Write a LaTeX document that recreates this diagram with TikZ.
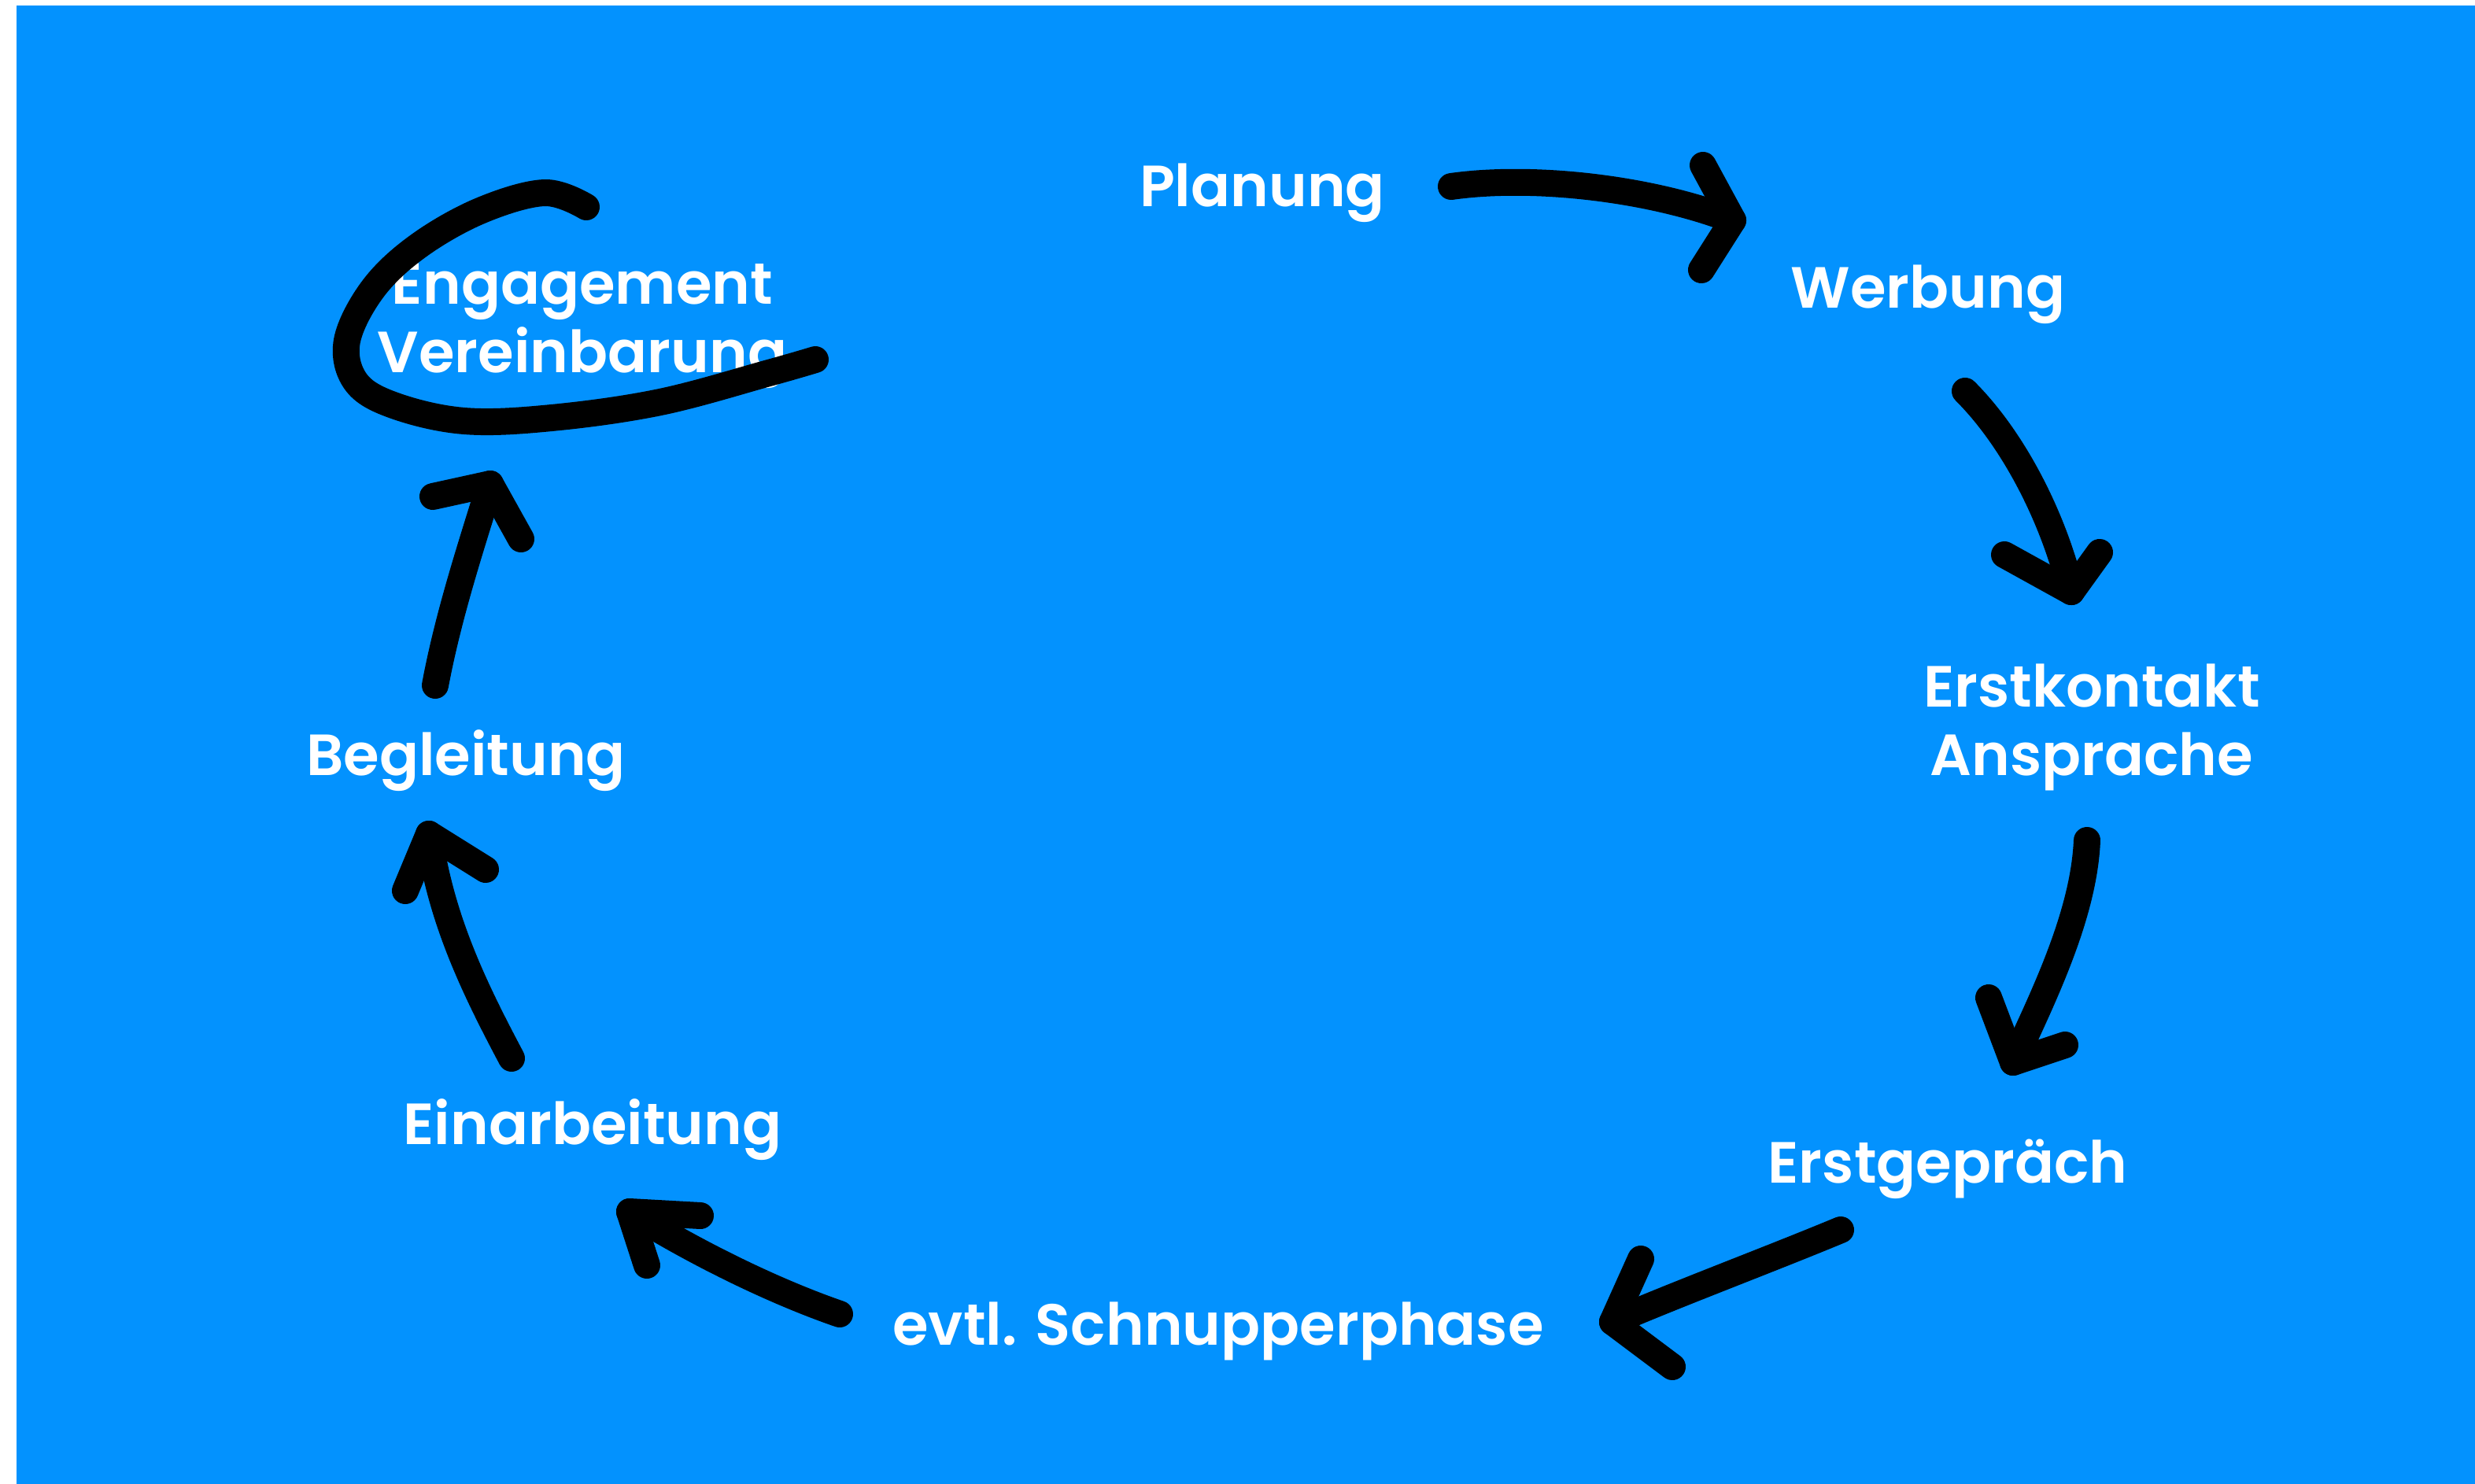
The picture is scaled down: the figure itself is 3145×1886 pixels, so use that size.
\documentclass[tikz,border=0pt]{standalone}
\usepackage{fontspec}
\setmainfont{Poppins}
\newfontfamily\stagefont{Poppins SemiBold}
\usepackage{xcolor}
\usepackage{tikz}
\usetikzlibrary{positioning}
\definecolor{cycBlue}{RGB}{3, 146, 254}
\tikzset{
    stage/.style={
        font=\stagefont\fontsize{21}{24.5}\selectfont,
        text=white,
        inner sep=0pt,
        align=center
    },
    stroke/.style={
        draw=black,
        line width=3.4mm,
        line cap=round,
        line join=round
    }
}

\begin{document}
\begin{tikzpicture}[x=0.1mm, y=-0.1mm]
  % Background
  \fill[white] (0,0) rectangle (3145,1886);
  \fill[cycBlue] (21,7) rectangle (3145,1886);
  \useasboundingbox (0,0) rectangle (3145,1886);

  % Stages (two-line nodes sit on their last baseline)
  \node[stage, anchor=base] (plan) at (1604,262) {Planung};
  \node[stage, anchor=base] (werb) at (2450,391) {Werbung};
  \node[stage, anchor=base] (kont) at (2658,985) {Erstkontakt\\Ansprache};
  \node[stage, anchor=base] (gespr) at (2475,1503) {Erstgepräch};
  \node[stage, anchor=base] (schn) at (1548,1709) {evtl. Schnupperphase};
  \node[stage, anchor=base] (einarb) at (753,1454) {Einarbeitung};
  \node[stage, anchor=base] (begl) at (592,985) {Begleitung};
  \node[stage, anchor=base] (engag) at (740,473) {Engagement\\Vereinbarung};

  % Arrow ends
  \coordinate (a1s) at (1844,237);  \coordinate (a1e) at (2202,280);
  \coordinate (a2s) at (2497,497);  \coordinate (a2e) at (2632,752);
  \coordinate (a3s) at (2652,1068); \coordinate (a3e) at (2558,1350);
  \coordinate (a4s) at (2339,1563); \coordinate (a4e) at (2049,1680);
  \coordinate (a5s) at (1067,1670); \coordinate (a5e) at (800,1540);
  \coordinate (a6s) at (650,1345);  \coordinate (a6e) at (545,1060);
  \coordinate (a7s) at (553,871);   \coordinate (a7e) at (623,615);

  % Shafts
  \draw[stroke] (a1s) .. controls (1950,222) and (2100,240) .. (a1e);
  \draw[stroke] (a2s) .. controls (2560,560) and (2610,660) .. (a2e);
  \draw[stroke] (a3s) .. controls (2648,1160) and (2600,1260) .. (a3e);
  \draw[stroke] (a4s) .. controls (2250,1600) and (2130,1645) .. (a4e);
  \draw[stroke] (a5s) .. controls (980,1640) and (880,1590) .. (a5e);
  \draw[stroke] (a6s) .. controls (605,1260) and (560,1170) .. (a6e);
  \draw[stroke] (a7s) .. controls (570,780) and (600,690) .. (a7e);

  % Heads
  \draw[stroke] (a1e) ++(-38,-70) -- (a1e) -- ++(-40,63);
  \draw[stroke] (a2e) ++(-85,-47) -- (a2e) -- ++(36,-50);
  \draw[stroke] (a3e) ++(-31,-82) -- (a3e) -- ++(66,-22);
  \draw[stroke] (a4e) ++(36,-80) -- (a4e) -- ++(76,57);
  \draw[stroke] (a5e) ++(90,5) -- (a5e) -- ++(22,68);
  \draw[stroke] (a6e) ++(-30,72) -- (a6e) -- ++(72,45);
  \draw[stroke] (a7e) ++(-73,16) -- (a7e) -- ++(39,70);

  % Loop round the agreement
  \draw[stroke] plot[smooth, tension=0.6] coordinates {(745,263) (692,245) (610,268) (531,313) (474,367) (441,433) (452,485) (500,515) (590,535) (701,531) (839,511) (977,474) (1036,457)};
\end{tikzpicture}
\end{document}
